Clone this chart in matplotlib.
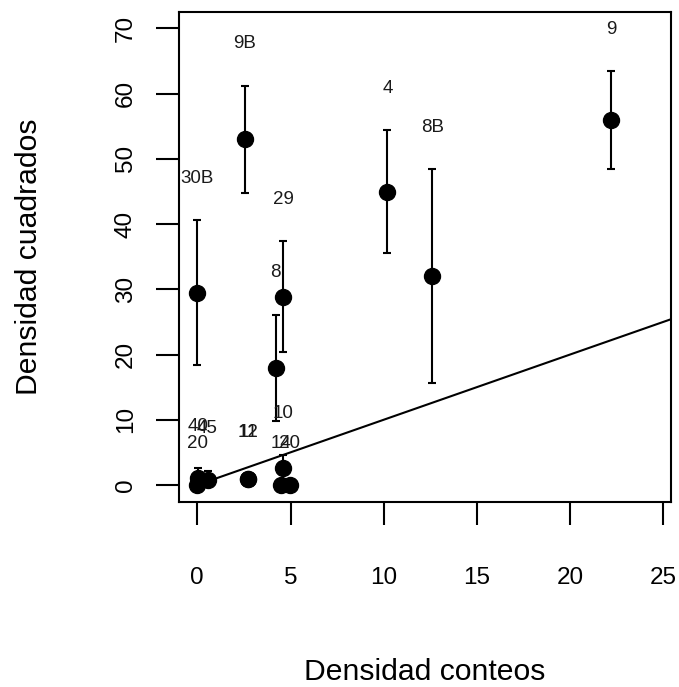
import numpy as np
import matplotlib.pyplot as plt

plt.rcParams['font.family'] = ['Liberation Sans', 'DejaVu Sans']

# sitios: densidad por conteos vs densidad por cuadrados (media y rango)
sitios = ["30B", "9B", "29", "8", "4", "8B", "9",
          "10", "11", "12", "14", "20", "40", "45", "20"]
dens_conteos = [0.0, 2.55, 4.6, 4.2, 10.2, 12.6, 22.2,
                4.6, 2.73, 2.73, 4.5, 4.95, 0.05, 0.55, 0.0]
dens_cuadrados = [29.4, 53.0, 28.8, 17.9, 44.9, 32.0, 56.0,
                  2.6, 0.9, 0.9, 0.0, 0.0, 1.0, 0.8, 0.0]
cuad_inf = [18.4, 44.8, 20.4, 9.8, 35.5, 15.7, 48.4,
            0.6, 0.2, 0.2, 0.0, 0.0, 0.0, 0.0, 0.0]
cuad_sup = [40.6, 61.2, 37.4, 26.1, 54.4, 48.4, 63.4,
            4.6, 1.6, 1.6, 0.0, 0.0, 2.6, 2.2, 0.0]

# recta 1:1
pendiente = 1.0
intercepto = 0.0

x_ticks = [0, 5, 10, 15, 20, 25]
y_ticks = [0, 10, 20, 30, 40, 50, 60, 70]


def main():
    W, H = 679, 687
    fig = plt.figure(figsize=(W / 100, H / 100), dpi=100)
    left, right, top, bottom = 179.3, 671.0, 11.7, 502.0
    ax = fig.add_axes([left / W, 1 - bottom / H, (right - left) / W, (bottom - top) / H])

    x = np.array(dens_conteos)
    y = np.array(dens_cuadrados)
    lo = np.array(cuad_inf)
    hi = np.array(cuad_sup)

    ax.set_xlim(-0.966, 25.41)
    ax.set_ylim(-2.61, 72.55)

    xr = np.array([0, ax.get_xlim()[1] + 1])
    ax.plot(xr, intercepto + pendiente * xr, color='black', lw=1.5, zorder=2)

    ax.errorbar(x, y, yerr=[y - lo, hi - y], fmt='o', color='black',
                ms=11.5, elinewidth=1.5, capsize=2.8, capthick=1.5, zorder=3)

    for s, xi, hv in zip(sitios, x, hi):
        ax.text(xi, hv + 6.4, s, ha='center', va='center', fontsize=13.5,
                color='#1a1a1a')

    ax.set_xticks(x_ticks)
    ax.set_yticks(y_ticks)
    ax.tick_params(axis='both', length=16.5, width=1.5, labelsize=17.5)
    ax.tick_params(axis='x', pad=30)
    ax.tick_params(axis='y', pad=14, labelrotation=90)
    plt.setp(ax.get_yticklabels(), va='center')
    for sp in ax.spines.values():
        sp.set_linewidth(1.5)

    fig.text((left + right) / 2 / W, 1 / H, 'Densidad conteos',
             ha='center', va='bottom', fontsize=21.7)
    fig.text(29.5 / W, 1 - (top + bottom) / 2 / H, 'Densidad cuadrados',
             ha='center', va='center', rotation=90, fontsize=21.7)

    fig.savefig('out.png', dpi=100)


if __name__ == '__main__':
    main()
